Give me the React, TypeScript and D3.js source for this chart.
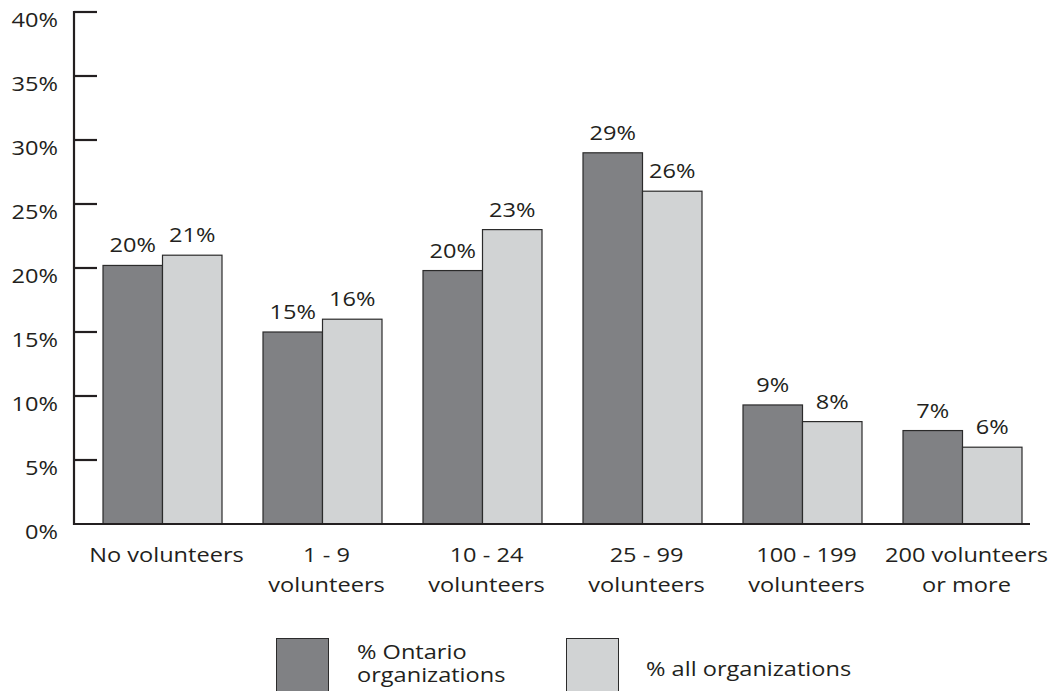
import React from "react";
import * as d3 from "d3";

const categories = [
  ["No volunteers"],
  ["1 - 9", "volunteers"],
  ["10 - 24", "volunteers"],
  ["25 - 99", "volunteers"],
  ["100 - 199", "volunteers"],
  ["200 volunteers", "or more"],
];
const ontario = [20.2, 15, 19.8, 29, 9.3, 7.3];
const ontarioLabels = ["20%", "15%", "20%", "29%", "9%", "7%"];
const allOrgs = [21, 16, 23, 26, 8, 6];
const allLabels = ["21%", "16%", "23%", "26%", "8%", "6%"];
const yTicks = [0, 5, 10, 15, 20, 25, 30, 35, 40];
const seriesNames = ["% Ontario organizations", "% all organizations"];

const W = 1054;
const H = 691;
const FONT = "'Open Sans', sans-serif";
const FS = 20.5;
const SX = 1.15;
const TEXT = "#231f20";
const DARK = "#808184";
const LIGHT = "#d1d3d4";
const STROKE = "#2b2b2b";

function Txt({
  x,
  y,
  anchor = "start",
  children,
}: {
  x: number;
  y: number;
  anchor?: "start" | "middle" | "end";
  children: React.ReactNode;
}) {
  return (
    <text
      transform={`translate(${x},${y}) scale(${SX},1)`}
      textAnchor={anchor}
      fontSize={FS}
      fill={TEXT}
    >
      {children}
    </text>
  );
}

export default function App() {
  const y = d3.scaleLinear().domain([0, 40]).range([524, 12]);
  const keys = categories.map((c) => c.join(" "));
  const x0 = d3.scaleBand().domain(keys).range([82.5, 1042.5]).padding(0);
  const inner = d3
    .scaleBand()
    .domain(seriesNames)
    .range([80 - 59.5, 80 + 59.5])
    .padding(0);
  const axisX = 74;

  return (
    <svg
      width={W}
      height={H}
      style={{ position: "absolute", left: 0, top: 0 }}
      fontFamily={FONT}
    >
      <rect width={W} height={H} fill="#fff" />
      {keys.map((k, i) => {
        const gx = x0(k)!;
        const vals = [ontario[i], allOrgs[i]];
        const labs = [ontarioLabels[i], allLabels[i]];
        return (
          <g key={k}>
            {seriesNames.map((s, j) => {
              const bx = gx + inner(s)!;
              const top = y(vals[j]);
              return (
                <g key={s}>
                  <rect
                    x={bx}
                    y={top}
                    width={inner.bandwidth()}
                    height={y(0) - top}
                    fill={j === 0 ? DARK : LIGHT}
                    stroke={STROKE}
                    strokeWidth={1.2}
                  />
                  <Txt x={bx + inner.bandwidth() / 2} y={top - 13} anchor="middle">
                    {labs[j]}
                  </Txt>
                </g>
              );
            })}
            {categories[i].map((line, li) => (
              <Txt key={li} x={gx + 84} y={562 + li * 30} anchor="middle">
                {line}
              </Txt>
            ))}
          </g>
        );
      })}
      <line x1={axisX} x2={axisX} y1={y(40) - 1} y2={y(0) + 1} stroke={TEXT} strokeWidth={2.2} />
      {yTicks.map((t) => (
        <g key={t}>
          {t > 0 && (
            <line x1={axisX} x2={97} y1={y(t)} y2={y(t)} stroke={TEXT} strokeWidth={2.2} />
          )}
          <Txt x={58} y={y(t) + 15} anchor="end">
            {t}%
          </Txt>
        </g>
      ))}
      <line x1={axisX - 1} x2={1030} y1={y(0)} y2={y(0)} stroke={TEXT} strokeWidth={2.2} />
      {/* legend */}
      <rect x={276.5} y={638.5} width={52} height={60} fill={DARK} stroke={STROKE} strokeWidth={1} />
      <Txt x={357} y={659}>% Ontario</Txt>
      <Txt x={357} y={682}>organizations</Txt>
      <rect x={566.5} y={638.5} width={52} height={60} fill={LIGHT} stroke={STROKE} strokeWidth={1} />
      <Txt x={646} y={676}>{seriesNames[1]}</Txt>
    </svg>
  );
}
